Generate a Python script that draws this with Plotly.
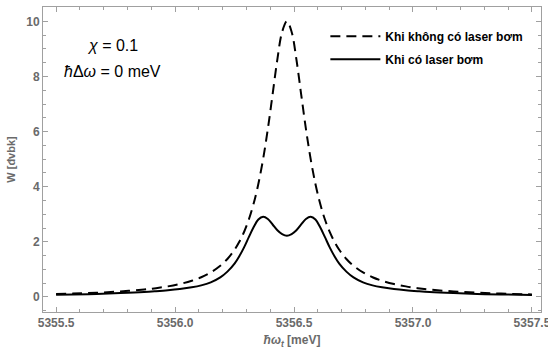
import plotly.graph_objects as go

# photon energy hbar*omega_t [meV]
energy = [5355.50, 5355.57, 5355.67, 5355.77, 5355.87, 5355.92, 5355.97, 5356.02,
          5356.07, 5356.11, 5356.15, 5356.19, 5356.22, 5356.25, 5356.27, 5356.29,
          5356.31, 5356.33, 5356.35, 5356.37, 5356.39, 5356.41, 5356.43, 5356.45,
          5356.47,
          5356.49, 5356.51, 5356.53, 5356.55, 5356.57, 5356.59, 5356.61, 5356.63,
          5356.65, 5356.67, 5356.69, 5356.72, 5356.75, 5356.79, 5356.83, 5356.87,
          5356.92, 5356.97, 5357.02, 5357.07, 5357.17, 5357.27, 5357.37, 5357.50]

# W without pump laser (dashed)
w_no_pump = [0.105, 0.122, 0.154, 0.200, 0.270, 0.320, 0.385, 0.471,
             0.588, 0.716, 0.890, 1.131, 1.379, 1.712, 2.000, 2.358,
             2.809, 3.378, 4.098, 5.000, 6.098, 7.353, 8.621, 9.615,
             10.00,
             9.615, 8.621, 7.353, 6.098, 5.000, 4.098, 3.378, 2.809,
             2.358, 2.000, 1.712, 1.379, 1.131, 0.890, 0.716, 0.588,
             0.471, 0.385, 0.320, 0.270, 0.200, 0.154, 0.122, 0.093]

# W with pump laser (solid)
w_pump = [0.080, 0.090, 0.110, 0.140, 0.180, 0.210, 0.245, 0.290,
          0.350, 0.420, 0.530, 0.710, 0.920, 1.210, 1.480, 1.800,
          2.170, 2.530, 2.810, 2.910, 2.830, 2.630, 2.420, 2.280,
          2.220,
          2.280, 2.420, 2.630, 2.830, 2.910, 2.810, 2.530, 2.170,
          1.800, 1.480, 1.210, 0.920, 0.710, 0.530, 0.420, 0.350,
          0.290, 0.245, 0.210, 0.180, 0.140, 0.110, 0.090, 0.075]

names = ["Khi không có laser bơm", "Khi có laser bơm"]

x_ticks = [5355.5, 5356.0, 5356.5, 5357.0, 5357.5]
x_tick_text = ["5355.5", "5356.0", "5356.5", "5357.0", "5357.5"]
y_ticks = [0, 2, 4, 6, 8, 10]

fig = go.Figure()
fig.add_trace(go.Scatter(x=energy, y=w_no_pump, mode="lines", name=names[0],
                         legendgroup="a", line_shape="spline",
                         line=dict(color="black", width=2, dash="10px,6px")))
fig.add_trace(go.Scatter(x=energy, y=w_pump, mode="lines", name=names[1],
                         legendgroup="b", line_shape="spline",
                         line=dict(color="black", width=2)))

gray = "#6a6a6a"
frame = "#a0a0a0"
axis_common = dict(showline=True, linecolor=frame, linewidth=1, mirror="ticks",
                   ticks="inside", ticklen=5, tickcolor=frame, showgrid=False,
                   zeroline=False, automargin=False, ticklabeloverflow="allow",
                   tickfont=dict(family="Liberation Sans", size=12, color=gray,
                                 weight="bold"))

fig.update_layout(
    width=548, height=356,
    margin=dict(l=43, r=7, t=7, b=44, autoexpand=False),
    paper_bgcolor="white", plot_bgcolor="white",
    font=dict(family="Liberation Sans", color="black"),
    showlegend=True,
    legend=dict(x=0.567, y=0.952, xanchor="left", yanchor="top", itemwidth=50,
                bgcolor="rgba(0,0,0,0)", traceorder="grouped", tracegroupgap=4,
                font=dict(family="Liberation Sans", size=12, color="black",
                          weight="bold")),
    xaxis=dict(range=[5355.445, 5357.538], tickvals=x_ticks, ticktext=x_tick_text,
               minor=dict(dtick=0.1, tick0=5355.5, ticks="inside", ticklen=3,
                          tickcolor=frame),
               title=dict(text="<i>ħω</i><sub><i>t</i></sub> [meV]", standoff=6,
                          font=dict(family="Liberation Sans", size=12, color=gray,
                                    weight="bold")),
               **axis_common),
    yaxis=dict(range=[-0.545, 10.52], tickvals=y_ticks,
               minor=dict(dtick=0.5, tick0=0, ticks="inside", ticklen=3,
                          tickcolor=frame),
               title=dict(text="W [đvbk]", standoff=8,
                          font=dict(family="Liberation Sans", size=11, color=gray,
                                    weight="bold")),
               **axis_common),
)

fig.add_annotation(xref="paper", yref="paper", x=(112 - 43) / 498, y=1 - (45 - 7) / 305,
                   xanchor="center", yanchor="middle",
                   text="<i>χ</i> = 0.1", showarrow=False,
                   font=dict(family="Liberation Sans", size=16, color="black"))
fig.add_annotation(xref="paper", yref="paper", x=(112 - 43) / 498, y=1 - (71 - 7) / 305,
                   xanchor="center", yanchor="middle",
                   text="<i>ħ</i>Δ<i>ω</i> = 0 meV", showarrow=False,
                   font=dict(family="Liberation Sans", size=16, color="black"))

fig.write_html("out.html", config={"displayModeBar": False},
               post_script="document.body.style.margin='0';document.body.style.overflow='hidden';")
